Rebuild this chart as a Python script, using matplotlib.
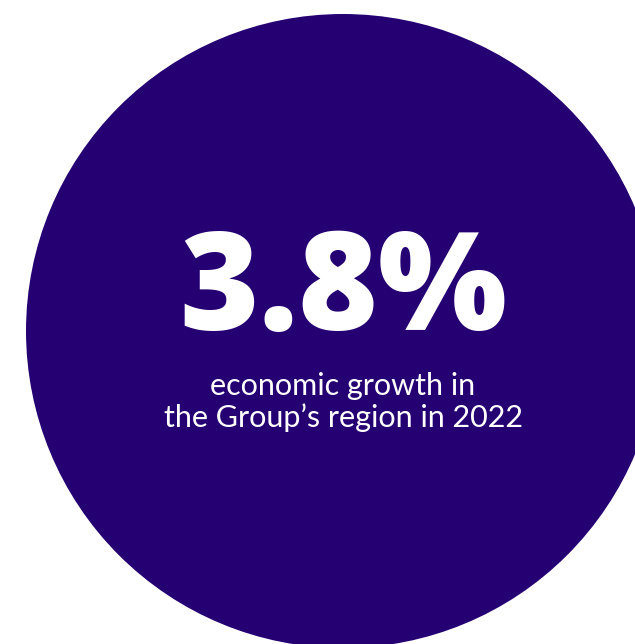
import matplotlib.pyplot as plt
from matplotlib.patches import Circle

# headline figure and caption
growth_pct = 3.8
year = 2022
caption_lines = ["economic growth in", f"the Group\u2019s region in {year}"]

W, H = 635, 644
fig = plt.figure(figsize=(W / 100, H / 100), dpi=100)
ax = fig.add_axes([0, 0, 1, 1])
ax.set_xlim(0, W)
ax.set_ylim(H, 0)
ax.set_aspect('equal')
ax.axis('off')

cx, cy, r = 343, 331, 317
ax.add_patch(Circle((cx, cy), r, color='#250073', lw=0))

ax.text(cx, 330, f"{growth_pct:.1f}%", color='white', ha='center', va='baseline',
        fontsize=98, fontfamily='Open Sans', fontweight='heavy')

for i, line in enumerate(caption_lines):
    ax.text(cx, 395 + i * 32, line, color='white', ha='center', va='baseline',
            fontsize=22, fontfamily='Lato', fontweight='normal')

fig.savefig('out.png', dpi=100, facecolor='white')
